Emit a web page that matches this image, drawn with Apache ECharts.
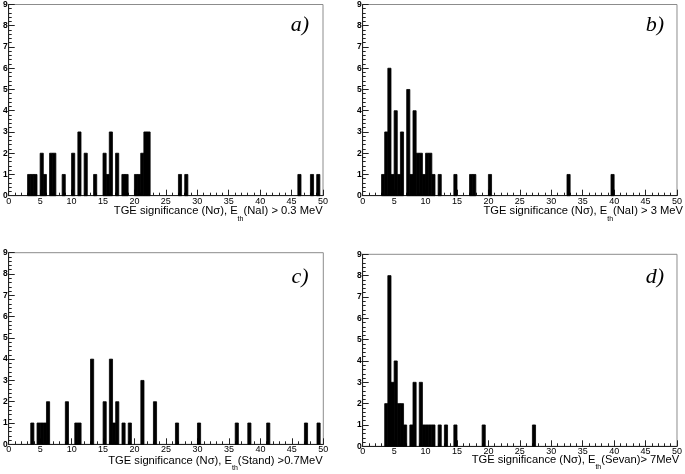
<!DOCTYPE html>
<html><head><meta charset="utf-8">
<script src="https://cdn.jsdelivr.net/npm/echarts@6/dist/echarts.min.js"></script>
<style>html,body{margin:0;padding:0;background:#fff}#c{width:685px;height:474px}</style>
</head><body><div id="c"></div>
<script>
// Histogram data: bin width 0.5, bin lower edges and counts
const binWidth = 0.5;
const binsA = [3.0,3.5,4.0,5.0,5.5,6.5,7.0,8.5,10.0,11.0,12.0,13.5,15.0,15.5,16.0,17.0,18.0,18.5,20.0,20.5,21.0,21.5,22.0,27.0,28.0,46.0,48.0,49.0];
const countsA = [1,1,1,2,1,2,2,1,2,3,2,1,2,1,3,2,1,1,1,1,2,3,3,1,1,1,1,1];
const binsB = [3.0,3.5,4.0,4.5,5.0,5.5,6.0,7.0,7.5,8.0,8.5,9.0,9.5,10.0,10.5,11.0,12.0,14.5,17.0,17.5,20.0,32.5,39.5];
const countsB = [1,3,6,1,4,1,3,5,1,4,2,2,1,2,2,1,1,1,1,1,1,1,1];
const binsC = [3.5,4.5,5.0,5.5,6.0,9.0,10.5,11.0,13.0,15.0,16.0,16.5,17.0,18.0,19.0,21.0,23.0,26.5,30.0,36.0,38.0,41.0,47.0,49.0];
const countsC = [1,1,1,1,2,2,1,1,4,2,4,1,2,1,1,3,2,1,1,1,1,1,1,1];
const binsD = [3.5,4.0,4.5,5.0,5.5,6.0,6.5,7.5,8.0,9.0,9.5,10.0,10.5,11.0,12.0,13.0,14.5,19.0,27.0];
const countsD = [2,8,3,4,2,2,1,1,3,3,1,1,1,1,1,1,1,1,1];

const panelLabels = ['a)','b)','c)','d)'];
const xTitleParts = [
  ['TGE significance (Nσ), E','th','(NaI) > 0.3 MeV'],
  ['TGE significance (Nσ), E','th','(NaI) > 3 MeV'],
  ['TGE significance (Nσ), E','th','(Stand) >0.7MeV'],
  ['TGE significance (Nσ), E','th','(Sevan)> 7MeV']
];
const xMin = 0, xMax = 50, xInterval = 5;
const yMin = 0, yMax = 9, yInterval = 1;

const panels = [[binsA,countsA],[binsB,countsB],[binsC,countsC],[binsD,countsD]];

const grids = [
  {left:7.5, top:4, width:315.5, height:191.7},
  {left:362.7, top:4, width:316.3, height:191.7},
  {left:7.3, top:252.7, width:316, height:191.6},
  {left:362.7, top:254.3, width:316.3, height:192}
];
const labelPos = [[300,25],[655,25],[300,277],[655,277]];
const titlePos = [[322.7,214],[683,214],[322.7,463.5],[679.3,462.5]];

const FONT = 'Liberation Sans, Arial, Helvetica, sans-serif';

function renderItem(params, api) {
  const p0 = api.coord([api.value(0), api.value(2)]);
  const p1 = api.coord([api.value(1), 0]);
  return {type:'rect', shape:{x:p0[0], y:p0[1], width:p1[0]-p0[0], height:p1[1]-p0[1]},
    style:{fill:'#000', stroke:'#000', lineWidth:0.8}};
}

const option = {
  animation:false,
  backgroundColor:'#fff',
  grid: grids.map(g => Object.assign({show:true, borderColor:'#8c8c8c', borderWidth:1, backgroundColor:'transparent', containLabel:false}, g)),
  xAxis: grids.map((g,i) => ({
    type:'value', gridIndex:i, min:xMin, max:xMax, interval:xInterval,
    axisLine:{show:true, onZero:false, lineStyle:{color:'#222', width:1}},
    axisTick:{show:true, inside:true, length:6, lineStyle:{color:'#222'}},
    minorTick:{show:true, splitNumber:5, length:3, lineStyle:{color:'#222'}},
    splitLine:{show:false},
    axisLabel:{show:true, color:'#000', fontSize:9, fontFamily:FONT, margin:1}
  })),
  yAxis: grids.map((g,i) => ({
    type:'value', gridIndex:i, min:yMin, max:yMax, interval:yInterval,
    axisLine:{show:true, onZero:false, lineStyle:{color:'#222', width:1}},
    axisTick:{show:true, inside:true, length:6, lineStyle:{color:'#222'}},
    minorTick:{show:true, splitNumber:5, length:3, lineStyle:{color:'#222'}},
    splitLine:{show:false},
    axisLabel:{show:true, color:'#000', fontSize:8.5, fontWeight:'bold', fontFamily:FONT, margin:1}
  })),
  series: panels.map((p,i) => ({
    type:'custom', xAxisIndex:i, yAxisIndex:i,
    renderItem: renderItem,
    encode:{x:[0,1], y:2},
    data: p[0].map((b,j) => [b, b + binWidth, p[1][j]])
  })),
  graphic: [
    ...panelLabels.map((t,i) => ({
      type:'text', x:labelPos[i][0], y:labelPos[i][1], silent:true,
      style:{text:t, fill:'#000', font:'italic 22px "Liberation Serif", "DejaVu Serif", serif', align:'center', verticalAlign:'middle'}
    })),
    ...xTitleParts.map((parts,i) => ({
      type:'text', x:titlePos[i][0], y:titlePos[i][1], silent:true,
      style:{
        text:'{m|' + parts[0] + '}{s|' + parts[1] + '}{m|' + parts[2] + '}',
        align:'right', verticalAlign:'middle',
        rich:{
          m:{fontSize:11.2, fontFamily:FONT, fill:'#000', verticalAlign:'top', lineHeight:17},
          s:{fontSize:7, fontFamily:FONT, fill:'#000', verticalAlign:'bottom', lineHeight:17}
        }
      }
    }))
  ]
};

const chart = echarts.init(document.getElementById('c'), null, {renderer:'canvas'});
chart.setOption(option);
</script>
</body></html>
